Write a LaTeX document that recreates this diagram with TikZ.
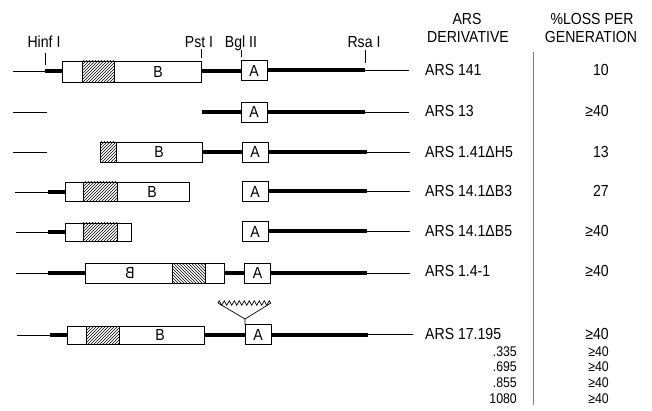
\documentclass[tikz,border=0pt]{standalone}
\usepackage{fontspec}
\setmainfont{Liberation Sans}[FakeStretch=0.88]
\usetikzlibrary{patterns,decorations.pathmorphing}

\begin{document}
\begin{tikzpicture}[x=1pt,y=-1pt,
		every node/.style={font=\fontsize{16}{18}\selectfont,inner sep=0pt,text height=11.5pt,text depth=0pt},
		sublabel/.style={font=\fontsize{14}{16}\selectfont,text height=10pt},
		dna/.style={line width=0.7pt},
		arsdna/.style={line width=4pt},
		frag/.style={draw,line width=0.9pt,fill=white},
		hatch/.style={draw,line width=0.9pt,pattern=north east lines},
		revhatch/.style={draw,line width=0.9pt,pattern=north west lines},
		abox/.style={draw,line width=0.9pt,fill=white,minimum width=26pt,minimum height=20pt},
		site/.style={line width=0.7pt}]
		\useasboundingbox (0,0) rectangle (652,411);
		
		% restriction sites
		\draw[site] (45,53) to (45,65);
		\draw[site] (201,49) to (201,58);
		\draw[site] (241,50) to (241,57);
		\draw[site] (365,50) to (365,63);
		\node (hinf) at (44,42) {Hinf I};
		\node (pst) at (199,42) {Pst I};
		\node (bgl) at (241,42) {Bgl II};
		\node (rsa) at (364,42) {Rsa I};
		
		% ARS 141
		\draw[dna] (13,71) to (45,71);
		\draw[arsdna] (45,71) to (62,71);
		\draw[arsdna] (201,71) to (241,71);
		\draw[frag] (62,61) rectangle (201,82);
		\draw[hatch] (82,61) rectangle (114,82);
		\node (b1) at (158,71.5) {B};
		\node[abox] (a1) at (254,70.5) {A};
		\draw[arsdna] (a1.east) to (365,70.5);
		\draw[dna] (365,70.5) to (409,70.5);
		
		% ARS 13
		\draw[dna] (13,112) to (47,112);
		\draw[arsdna] (202,112) to (241,112);
		\node[abox] (a2) at (254,112) {A};
		\draw[arsdna] (a2.east) to (365,112);
		\draw[dna] (365,112) to (409,112);
		
		% ARS 1.41 dH5
		\draw[dna] (13,152) to (47,152);
		\draw[frag] (100,142) rectangle (202,162);
		\draw[hatch] (100,142) rectangle (116,162);
		\node (b3) at (159,152) {B};
		\draw[arsdna] (202,152) to (242,152);
		\node[abox] (a3) at (255,152) {A};
		\draw[arsdna] (a3.east) to (367,152);
		\draw[dna] (367,152) to (410,152);
		
		% ARS 14.1 dB3
		\draw[dna] (15,192) to (48,192);
		\draw[arsdna] (48,192) to (65,192);
		\draw[frag] (65,182) rectangle (189,201);
		\draw[hatch] (83,182) rectangle (117,201);
		\node (b4) at (152,191.5) {B};
		\node[abox] (a4) at (255,191.5) {A};
		\draw[arsdna] (a4.east) to (367,191.5);
		\draw[dna] (367,191.5) to (410,191.5);
		
		% ARS 14.1 dB5
		\draw[dna] (16,232) to (48,232);
		\draw[arsdna] (48,232) to (65,232);
		\draw[frag] (65,223) rectangle (131,241);
		\draw[hatch] (83,223) rectangle (117,241);
		\node[abox] (a5) at (255,231.5) {A};
		\draw[arsdna] (a5.east) to (367,231.5);
		\draw[dna] (367,231.5) to (410,231.5);
		
		% ARS 1.4-1
		\draw[dna] (16,273) to (48,273);
		\draw[arsdna] (48,273) to (85,273);
		\draw[frag] (85,263) rectangle (224,283);
		\draw[revhatch] (172,263) rectangle (205,283);
		\node (b6) at (130,273) {\reflectbox{B}};
		\draw[arsdna] (224,273) to (245,273);
		\node[abox] (a6) at (257.5,273) {A};
		\draw[arsdna] (a6.east) to (367,273);
		\draw[dna] (367,273) to (410,273);
		
		% ARS 17 insertions
		\draw[dna] (17,335) to (50,335);
		\draw[arsdna] (50,335) to (67,335);
		\draw[frag] (67,326) rectangle (204,344);
		\draw[hatch] (86,326) rectangle (119,344);
		\node (b7) at (160,335) {B};
		\draw[arsdna] (204,335) to (245,335);
		\node[abox] (a7) at (258,334.5) {A};
		\draw[arsdna] (a7.east) to (368,334.5);
		\draw[dna] (368,334.5) to (413,334.5);
		\coordinate (ins) at (245,319);
		\draw[site] (245,325) to (ins) to (218,303);
		\draw[site] (ins) to (271,303);
		\draw[site,decorate,decoration={zigzag,segment length=5pt,amplitude=2.2pt}] (218,303) to (271,303);
		
		% table
		\node (hdars) at (467,19) {ARS};
		\node (hdder) at (468,37) {DERIVATIVE};
		\node (hdloss) at (592,19) {\%LOSS PER};
		\node (hdgen) at (591,37) {GENERATION};
		\draw[gray,line width=0.5pt] (533,52) to (533,405);
		
		\node[anchor=west] (l1) at (425,70) {ARS 141};
		\node[anchor=west] (l2) at (425,111) {ARS 13};
		\node[anchor=west] (l3) at (425,152) {ARS 1.41ΔH5};
		\node[anchor=west] (l4) at (425,191) {ARS 14.1ΔB3};
		\node[anchor=west] (l5) at (425,231) {ARS 14.1ΔB5};
		\node[anchor=west] (l6) at (425,271) {ARS 1.4-1};
		\node[anchor=west] (l7) at (425,334) {ARS 17.195};
		\node[anchor=east,sublabel] (l8) at (517,351) {.335};
		\node[anchor=east,sublabel] (l9) at (517,366.7) {.695};
		\node[anchor=east,sublabel] (l10) at (517,382.4) {.855};
		\node[anchor=east,sublabel] (l11) at (517,398.1) {1080};
		
		\node[anchor=east] (p1) at (609,70) {10};
		\node[anchor=east] (p2) at (609,111) {≥40};
		\node[anchor=east] (p3) at (609,152) {13};
		\node[anchor=east] (p4) at (609,191) {27};
		\node[anchor=east] (p5) at (609,231) {≥40};
		\node[anchor=east] (p6) at (609,271) {≥40};
		\node[anchor=east] (p7) at (609,334) {≥40};
		\node[anchor=east,sublabel] (p8) at (609,351) {≥40};
		\node[anchor=east,sublabel] (p9) at (609,366.7) {≥40};
		\node[anchor=east,sublabel] (p10) at (609,382.4) {≥40};
		\node[anchor=east,sublabel] (p11) at (609,398.1) {≥40};
		
	\end{tikzpicture}
\end{document}
